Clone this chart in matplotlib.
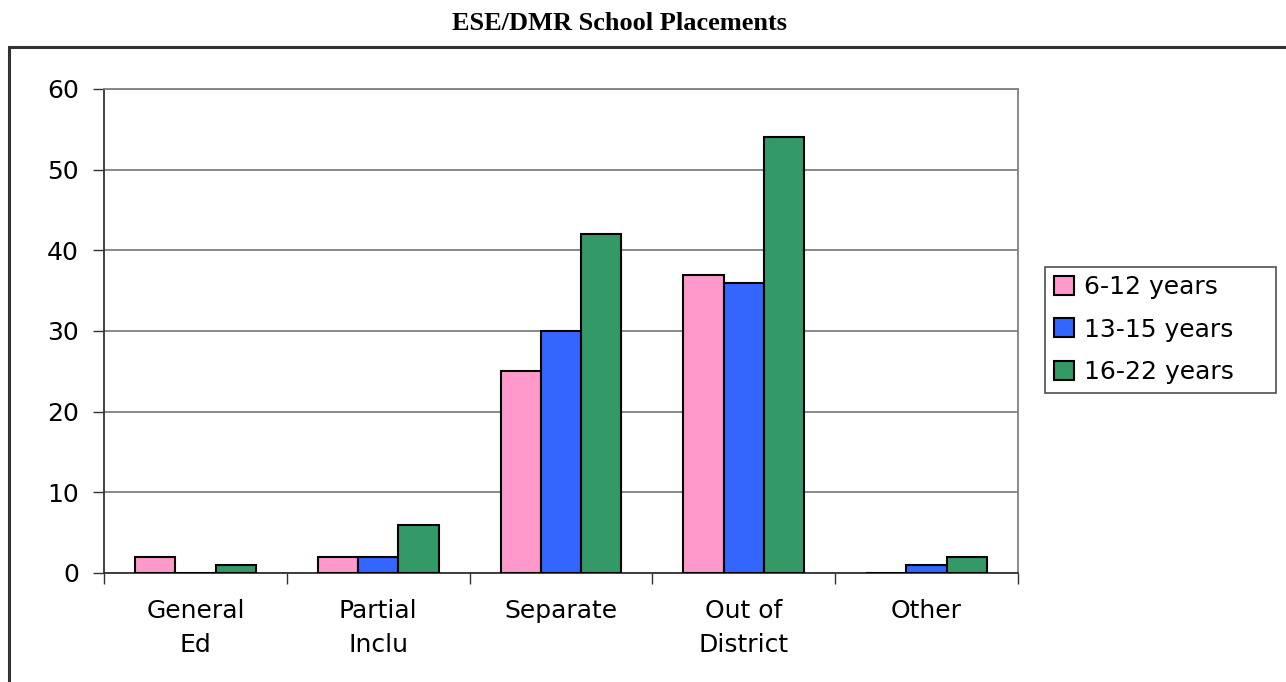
import matplotlib.pyplot as plt
import numpy as np
from matplotlib.patches import Rectangle

categories = ["General\nEd", "Partial\nInclu", "Separate", "Out of\nDistrict", "Other"]
series_names = ["6-12 years", "13-15 years", "16-22 years"]
age_6_12 = [2, 2, 25, 37, 0]
age_13_15 = [0, 2, 30, 36, 1]
age_16_22 = [1, 6, 42, 54, 2]
colors = ["#FF99CC", "#3366FF", "#339966"]

plt.rcParams["font.family"] = ["DejaVu Sans"]

W, H = 1286, 682
fig = plt.figure(figsize=(W / 100, H / 100), dpi=100)

# outer chart frame (runs off the right and bottom edges)
fig.patches.append(Rectangle((9 / W, -0.1), 1.2, 1 - 47 / H + 0.1,
                             transform=fig.transFigure, fill=False,
                             edgecolor="#333333", linewidth=2.2))

fig.text(620 / W, 1 - 23 / H, "ESE/DMR School Placements", ha="center", va="center",
         fontsize=19, fontweight="bold", family="Liberation Serif")

ax = fig.add_axes([104 / W, 1 - 573 / H, (1018 - 104) / W, (573 - 89) / H])

x = np.arange(len(categories))
width = 0.22
for k, vals in enumerate([age_6_12, age_13_15, age_16_22]):
    ax.bar(x + (k - 1) * width, vals, width, color=colors[k], edgecolor="black",
           linewidth=1.5, label=series_names[k], zorder=3)

ax.set_xlim(-0.5, len(categories) - 0.5)
ax.set_ylim(0, 60)
ax.set_yticks(range(0, 61, 10))
ax.grid(axis="y", color="#808080", linewidth=1.3, zorder=0)

ax.set_xticks(np.arange(-0.5, len(categories)), labels=[])
ax.set_xticks(x, labels=categories, minor=True)
ax.tick_params(axis="x", which="major", length=8, width=1, color="#333333")
ax.tick_params(axis="x", which="minor", length=0, pad=19, labelsize=18)
ax.tick_params(axis="y", length=8, width=1, color="#333333", labelsize=18, pad=10)
for lbl in ax.get_xticklabels(minor=True):
    lbl.set_linespacing(1.5)

for side in ["top", "right"]:
    ax.spines[side].set_color("#808080")
    ax.spines[side].set_linewidth(1.3)
for side in ["left", "bottom"]:
    ax.spines[side].set_color("#333333")
    ax.spines[side].set_linewidth(1.3)

# legend box sits centred beside the plot area
leg = fig.legend(loc="center left",
                 bbox_to_anchor=(1045 / W, 1 - 392 / H, (1276 - 1045) / W, 125 / H),
                 mode="expand", borderaxespad=0, fontsize=18, frameon=True,
                 fancybox=False, handlelength=0.8, handleheight=0.8,
                 handletextpad=0.4, labelspacing=0.73, borderpad=0.35)
leg.get_frame().set_edgecolor("#222222")
leg.get_frame().set_linewidth(1.2)

fig.savefig("out.png", dpi=100)
